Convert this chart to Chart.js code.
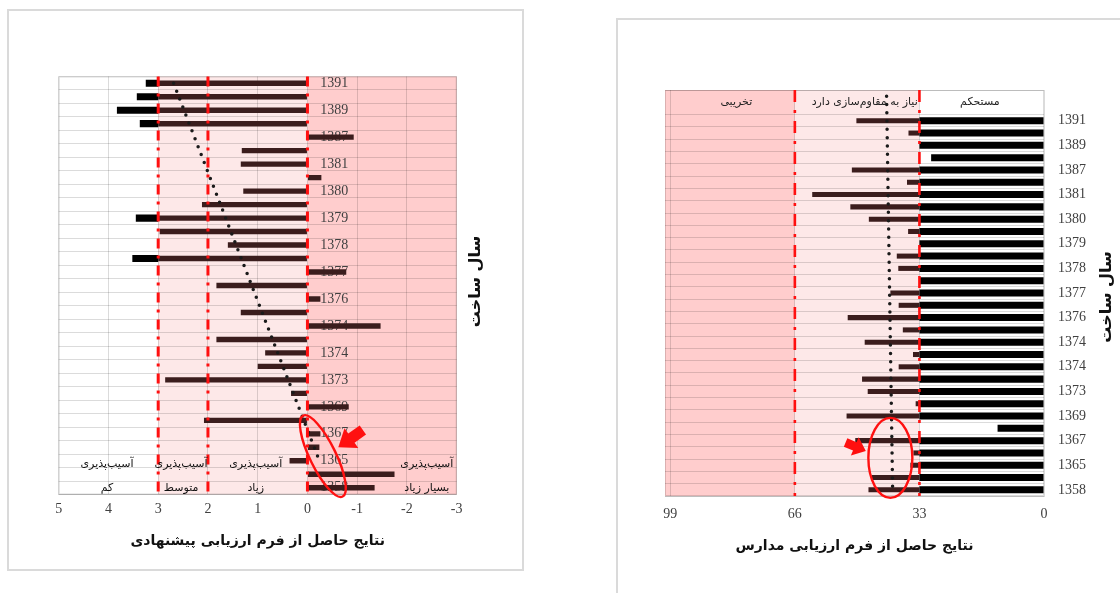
<!DOCTYPE html>
<html><head><meta charset="utf-8">
<script src="https://cdn.jsdelivr.net/npm/chart.js@4/dist/chart.umd.min.js"></script>
<style>
html,body{margin:0;padding:0;background:#fff;width:1120px;height:593px;overflow:hidden;}
.frame{position:absolute;border:2px solid #dadada;box-sizing:border-box;}
canvas{position:absolute;}
</style></head><body>
<div class="frame" style="left:7px;top:9px;width:517px;height:562px"></div>
<div class="frame" style="left:616px;top:18px;width:530px;height:600px"></div>
<canvas id="left" width="515" height="560" style="left:8px;top:10px"></canvas>
<canvas id="right" width="503" height="574" style="left:617px;top:19px"></canvas>
<script>
// ---------- data ----------
const yearLabels = ['1391','','1389','','1387','','1381','','1380','','1379','','1378','','1377','','1376','','1374','','1374','','1373','','1369','','1367','','1365','','1358'];
const rightLabels = ['', '', ...yearLabels];   // two header rows on top

// left chart (proposed form): part of each bar inside the -3..3 band, and the part beyond 3
const leftMain  = [3, 3, 3, 3, -0.93, 1.32, 1.34, -0.28, 1.29, 2.12, 3, 2.97, 1.6, 3, -0.78, 1.83, -0.26, 1.34, -1.47, 1.83, 0.85, 1.0, 2.86, 0.33, -0.83, 2.08, -0.26, -0.24, 0.36, -1.75, -1.35];
const leftExtra = [0.25, 0.43, 0.83, 0.37, null, null, null, null, null, null, 0.45, null, null, 0.52, null, null, null, null, null, null, null, null, null, null, null, null, null, null, null, null, null];
const leftTrendEnds = [{row: 0, value: 2.69}, {row: 28, value: -0.24}];
const leftTicks = {min: -3, max: 5, step: 1};
const leftGuides = [3, 2, 0];
const leftZoneEdges = [5, 3, 0, -3];
const leftZoneNames = [['آسیب‌پذیری','کم'], ['آسیب‌پذیری','متوسط'], ['آسیب‌پذیری','زیاد'], ['آسیب‌پذیری','بسیار زیاد']];
const leftZoneNameX = [4.03, 2.54, 1.04, -2.4];
const leftXTitle = 'نتایج حاصل از فرم ارزیابی پیشنهادی';

// right chart (schools form): solid part 0..33 and the part beyond 33
const rightSolid = [null, null, 33, 33, 33, 29.9, 33, 33, 33, 33, 33, 33, 33, 33, 33, 33, 33, 33, 33, 33, 33, 33, 33, 33, 33, 33, 33, 12.3, 33, 33, 33, 33, 33];
const rightExtra = [null, null, 16.7, 2.9, null, null, 17.9, 3.3, 28.4, 18.3, 13.4, 3, null, 6, 5.6, null, 7.7, 5.5, 19, 4.4, 14.5, 1.7, 5.5, 15.2, 13.7, 1, 19.3, null, 17, 1.6, 2.4, 12.6, 13.5];
const rightTrendEnds = [{row: 0, value: 41.7}, {row: 32, value: 40.1}];
const rightTickValues = [0, 33, 66, 99];
const rightMax = 100.4;
const rightGuides = [66, 33];
const rightZoneEdges = [100.4, 66, 33, 0];
const rightZoneNames = ['تخریبی', 'نیاز به مقاوم‌سازی دارد', 'مستحکم'];
const rightZoneNameX = [81.5, 47.5, 17];
const rightXTitle = 'نتایج حاصل از فرم ارزیابی مدارس';
const yTitle = 'سال ساخت';

// ---------- helpers ----------
function trendData(n, ends) {
  const d = new Array(n).fill(null);
  ends.forEach(e => { d[e.row] = e.value; });
  return d;
}
const GRID = 'rgba(0,0,0,0.14)';
const BROWN = '#3b1d1d';
const PINK_L = '#fde8e8';
const PINK_D = '#ffcdcd';
const SERIF = 'Liberation Serif';
const SANS = 'DejaVu Sans';

function zonesPlugin(edges, colors) {
  return {
    id: 'zones',
    beforeDraw(chart) {
      const {ctx, chartArea: a, scales: {x}} = chart;
      ctx.save();
      for (let i = 0; i < edges.length - 1; i++) {
        const p1 = x.getPixelForValue(edges[i]), p2 = x.getPixelForValue(edges[i + 1]);
        ctx.fillStyle = colors[i];
        ctx.fillRect(Math.min(p1, p2), a.top, Math.abs(p2 - p1), a.bottom - a.top);
      }
      ctx.strokeStyle = GRID; ctx.lineWidth = 1;
      ctx.strokeRect(a.left + 0.5, a.top + 0.5, a.right - a.left - 1, a.bottom - a.top - 1);
      ctx.restore();
    }
  };
}
function guidesPlugin(values, dash, width) {
  return {
    id: 'guides',
    afterDatasetsDraw(chart) {
      const {ctx, chartArea: a, scales: {x}} = chart;
      ctx.save();
      ctx.strokeStyle = '#ff1010'; ctx.lineWidth = width; ctx.setLineDash(dash);
      values.forEach(v => {
        const px = x.getPixelForValue(v);
        ctx.beginPath(); ctx.moveTo(px, a.top); ctx.lineTo(px, a.bottom); ctx.stroke();
      });
      ctx.restore();
    }
  };
}
function drawArrow(ctx, tx, ty, ang, len, headLen, headW, shaftW) {
  ctx.save();
  ctx.translate(tx, ty); ctx.rotate(ang);
  ctx.beginPath();
  ctx.moveTo(0, 0);
  ctx.lineTo(-headLen, -headW / 2);
  ctx.lineTo(-headLen, -shaftW / 2);
  ctx.lineTo(-len, -shaftW / 2);
  ctx.lineTo(-len, shaftW / 2);
  ctx.lineTo(-headLen, shaftW / 2);
  ctx.lineTo(-headLen, headW / 2);
  ctx.closePath();
  ctx.fillStyle = '#ff1010'; ctx.fill();
  ctx.restore();
}
function vTitle(ctx, text, x, y) {
  ctx.save();
  ctx.translate(x, y); ctx.rotate(-Math.PI / 2);
  ctx.font = 'bold 16px "' + SANS + '"';
  ctx.fillStyle = '#111'; ctx.textAlign = 'center'; ctx.textBaseline = 'middle';
  ctx.fillText(text, 0, 0);
  ctx.restore();
}

Chart.defaults.font.family = SANS;
Chart.defaults.animation = false;

// ---------- left chart ----------
new Chart(document.getElementById('left'), {
  type: 'bar',
  data: {
    labels: yearLabels,
    datasets: [
      {data: leftMain, backgroundColor: BROWN, barPercentage: 0.4, categoryPercentage: 1, order: 1},
      {data: leftExtra, backgroundColor: '#000', barPercentage: 0.53, categoryPercentage: 1, order: 1},
      {type: 'line', indexAxis: 'y', data: trendData(yearLabels.length, leftTrendEnds), borderColor: '#1a1a1a',
       borderWidth: 3.5, borderDash: [0, 8.5], borderCapStyle: 'round', pointRadius: 0, spanGaps: true, fill: false, tension: 0, order: 0}
    ]
  },
  options: {
    indexAxis: 'y', responsive: false, animation: false,
    layout: {padding: {left: 50.7, top: 66.5, right: 66.3, bottom: 0}},
    plugins: {legend: {display: false}, tooltip: {enabled: false}},
    scales: {
      x: {
        reverse: true, min: leftTicks.min, max: leftTicks.max, stacked: true,
        ticks: {stepSize: leftTicks.step, font: {family: SERIF, size: 14}, color: '#404040', padding: 6},
        grid: {color: GRID, drawTicks: false},
        border: {color: GRID},
        title: {display: true, text: leftXTitle, font: {family: SANS, size: 14, weight: 'bold'}, color: '#111', padding: {top: 0, bottom: 20}},
        afterFit(s) { s.height = 75.5; }
      },
      y: {
        position: {x: -0.82}, stacked: true, offset: true,
        grid: {color: GRID, drawTicks: false, offset: true},
        border: {display: false},
        ticks: {autoSkip: false, padding: 0, font: {family: SERIF, size: 14}, color: '#404040'}
      }
    }
  },
  plugins: [
    zonesPlugin(leftZoneEdges, ['#ffffff', PINK_L, PINK_D]),
    guidesPlugin(leftGuides, [10, 7, 3, 7], 3),
    {
      id: 'leftText',
      afterDraw(chart) {
        const {ctx, chartArea: a, scales: {x, y}} = chart;
        ctx.save();
        ctx.font = '11px "' + SANS + '"'; ctx.fillStyle = '#111';
        ctx.textAlign = 'center'; ctx.textBaseline = 'middle';
        const y2 = y.getPixelForValue(30), y1 = y2 - 24;
        leftZoneNames.forEach((n, i) => {
          const px = x.getPixelForValue(leftZoneNameX[i]);
          ctx.fillText(n[0], px, y1);
          ctx.fillText(n[1], px, y2);
        });
        // annotation: ellipse and arrow
        ctx.strokeStyle = '#ff1010'; ctx.lineWidth = 2.4;
        ctx.beginPath();
        ctx.ellipse(x.getPixelForValue(-0.31), y.getPixelForValue(27.65), 13, 45, -26 * Math.PI / 180, 0, 2 * Math.PI);
        ctx.stroke();
        drawArrow(ctx, x.getPixelForValue(-0.62), y.getPixelForValue(27.0), 145 * Math.PI / 180, 30, 16, 24, 11);
        ctx.restore();
        vTitle(ctx, yTitle, a.right + 19.5, (a.top + a.bottom) / 2 - 4);
      }
    }
  ]
});

// ---------- right chart ----------
new Chart(document.getElementById('right'), {
  type: 'bar',
  data: {
    labels: rightLabels,
    datasets: [
      {data: rightSolid, backgroundColor: '#000', barPercentage: 0.57, categoryPercentage: 1, order: 1},
      {data: rightExtra, backgroundColor: BROWN, barPercentage: 0.41, categoryPercentage: 1, order: 1},
      {type: 'line', indexAxis: 'y', data: trendData(rightLabels.length, rightTrendEnds), borderColor: '#1a1a1a',
       borderWidth: 3.5, borderDash: [0, 8.3], borderCapStyle: 'round', pointRadius: 0, spanGaps: true, fill: false, tension: 0, order: 0}
    ]
  },
  options: {
    indexAxis: 'y', responsive: false, animation: false,
    layout: {padding: {left: 48, top: 71, right: 0, bottom: 0}},
    plugins: {legend: {display: false}, tooltip: {enabled: false}},
    scales: {
      x: {
        reverse: true, min: 0, max: rightMax, stacked: true,
        afterBuildTicks(s) { s.ticks = rightTickValues.map(v => ({value: v})); },
        ticks: {font: {family: SERIF, size: 14}, color: '#404040', padding: 10},
        grid: {color: GRID, drawTicks: false},
        border: {color: GRID},
        title: {display: true, text: rightXTitle, font: {family: SANS, size: 14, weight: 'bold'}, color: '#111', padding: {top: 0, bottom: 38}},
        afterFit(s) { s.height = 97; }
      },
      y: {
        position: 'right', stacked: true, offset: true,
        grid: {color: (c) => c.index === 1 ? 'rgba(0,0,0,0)' : GRID, drawTicks: false, offset: true},
        border: {display: false},
        ticks: {autoSkip: false, padding: 14, font: {family: SERIF, size: 14}, color: '#404040'},
        afterFit(s) { s.width = 76; }
      }
    }
  },
  plugins: [
    zonesPlugin(rightZoneEdges, [PINK_D, PINK_L, '#ffffff']),
    guidesPlugin(rightGuides, [12, 8, 3, 8], 2.6),
    {
      id: 'rightText',
      afterDraw(chart) {
        const {ctx, chartArea: a, scales: {x, y}} = chart;
        ctx.save();
        ctx.font = '11px "' + SANS + '"'; ctx.fillStyle = '#222';
        ctx.textAlign = 'center'; ctx.textBaseline = 'middle';
        const hy = (y.getPixelForValue(0) + y.getPixelForValue(1)) / 2;
        rightZoneNames.forEach((n, i) => ctx.fillText(n, x.getPixelForValue(rightZoneNameX[i]), hy));
        ctx.strokeStyle = '#ff1010'; ctx.lineWidth = 2.4;
        ctx.beginPath();
        ctx.ellipse(x.getPixelForValue(40.7), y.getPixelForValue(29.4), 22, 40, 0, 0, 2 * Math.PI);
        ctx.stroke();
        drawArrow(ctx, x.getPixelForValue(47.2), y.getPixelForValue(28.85), 23 * Math.PI / 180, 22, 12, 20, 9);
        ctx.restore();
        vTitle(ctx, yTitle, a.right + 63, (a.top + a.bottom) / 2 + 4);
      }
    }
  ]
});
</script>
</body></html>
